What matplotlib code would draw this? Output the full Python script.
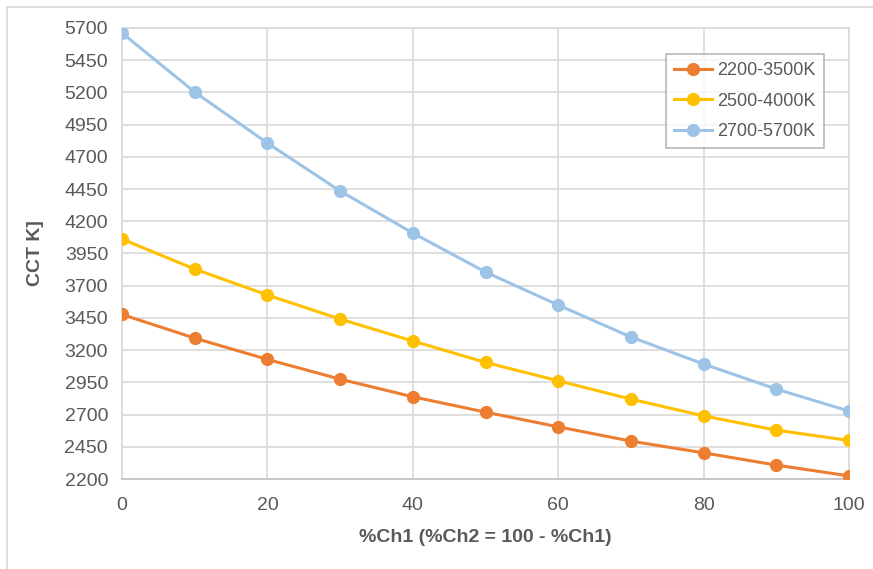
import matplotlib.pyplot as plt
from matplotlib.lines import Line2D

plt.rcParams['font.family'] = ['Liberation Sans', 'DejaVu Sans']

ch1 = [0, 10, 20, 30, 40, 50, 60, 70, 80, 90, 100]
cct_2200_3500 = [3477, 3293, 3128, 2975, 2838, 2719, 2605, 2494, 2403, 2308, 2224]
cct_2500_4000 = [4062, 3829, 3628, 3441, 3271, 3105, 2962, 2820, 2690, 2579, 2499]
cct_2700_5700 = [5661, 5203, 4807, 4435, 4109, 3806, 3550, 3302, 3092, 2898, 2727]
labels = ['2200-3500K', '2500-4000K', '2700-5700K']
colors = ['#ED7D31', '#FFC000', '#9DC3E6']

yticks = list(range(2200, 5701, 250))
xticks = [0, 20, 40, 60, 80, 100]

txt = '#595959'
grid = '#D9D9D9'

fig = plt.figure(figsize=(8.73, 5.69), dpi=100)
ax = fig.add_axes([122 / 873, 1 - 479 / 569, (849 - 122) / 873, (479 - 28) / 569])

for ys, lab, c in zip([cct_2200_3500, cct_2500_4000, cct_2700_5700], labels, colors):
    ax.plot(ch1, ys, color=c, lw=2.2, marker='o', ms=8.5, label=lab, zorder=3)

ax.set_xlim(0, 100)
ax.set_ylim(2200, 5700)
ax.set_xticks(xticks)
ax.set_yticks(yticks)
ax.grid(True, color=grid, lw=1.2)
ax.set_axisbelow(True)
for s in ax.spines.values():
    s.set_color(grid)
    s.set_linewidth(1.2)
ax.spines['bottom'].set_color('#BFBFBF')
ax.tick_params(axis='y', length=0, labelsize=14, labelcolor=txt, pad=10)
ax.tick_params(axis='x', length=0, labelsize=14, labelcolor=txt, pad=13)

ax.set_xlabel('%Ch1 (%Ch2 = 100 - %Ch1)', fontsize=14, fontweight='bold', color=txt, labelpad=11)
ax.set_ylabel('CCT K]', fontsize=14, fontweight='bold', color=txt, labelpad=15)

leg = ax.legend(loc='upper left', bbox_to_anchor=((666 - 122) / 727, 1 - (54 - 28) / 451),
                fontsize=13, frameon=True, fancybox=False, borderpad=0.45,
                handlelength=2.1, labelspacing=0.75, handletextpad=0.3, borderaxespad=0)
leg.get_frame().set_edgecolor('#A6A6A6')
leg.get_frame().set_linewidth(1.2)
for t in leg.get_texts():
    t.set_color(txt)

# outer chart border
fig.add_artist(Line2D([7 / 873, 1], [1 - 7 / 569, 1 - 7 / 569], color=grid, lw=1.2))
fig.add_artist(Line2D([7 / 873, 7 / 873], [0, 1 - 7 / 569], color=grid, lw=1.2))

fig.savefig('out.png', dpi=100)
